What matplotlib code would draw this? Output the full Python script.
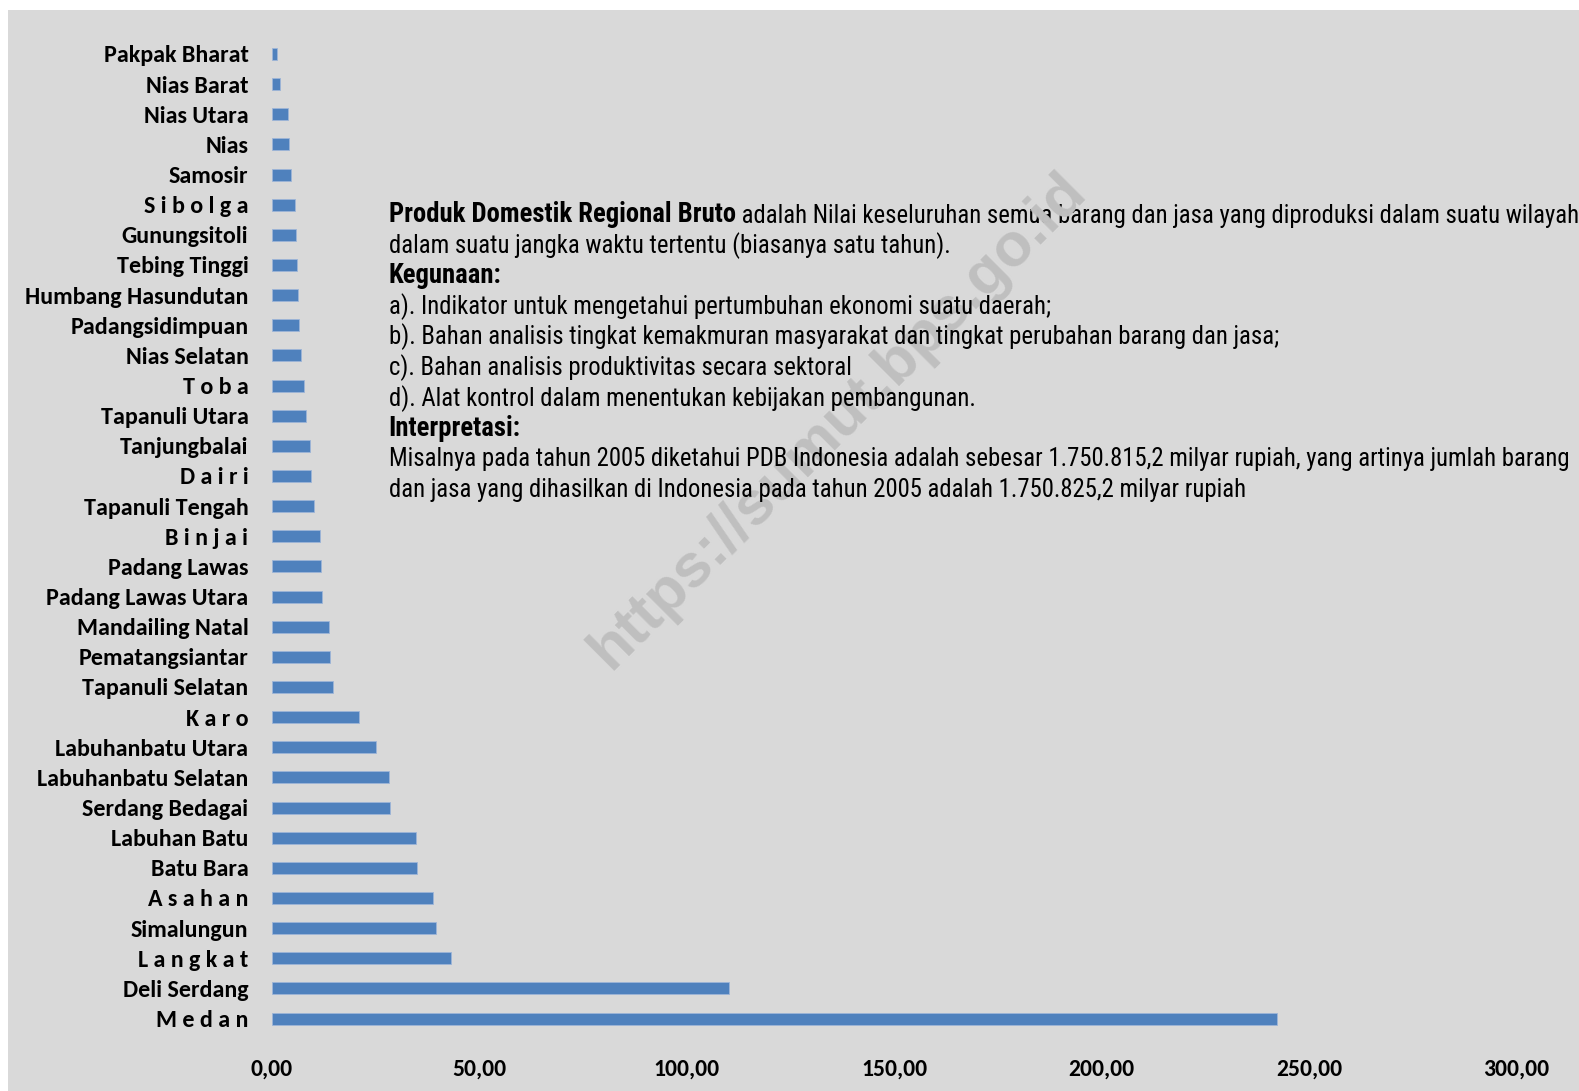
import matplotlib
matplotlib.use("Agg")
import matplotlib.pyplot as plt
from matplotlib.patches import Rectangle

categories = [
    "Pakpak Bharat", "Nias Barat", "Nias Utara", "Nias", "Samosir",
    "S i b o l g a", "Gunungsitoli", "Tebing Tinggi", "Humbang Hasundutan",
    "Padangsidimpuan", "Nias Selatan", "T o b a", "Tapanuli Utara",
    "Tanjungbalai", "D a i r i", "Tapanuli Tengah", "B i n j a i",
    "Padang Lawas", "Padang Lawas Utara", "Mandailing Natal",
    "Pematangsiantar", "Tapanuli Selatan", "K a r o", "Labuhanbatu Utara",
    "Labuhanbatu Selatan", "Serdang Bedagai", "Labuhan Batu", "Batu Bara",
    "A s a h a n", "Simalungun", "L a n g k a t", "Deli Serdang", "M e d a n",
]
values = [
    1.1, 1.9, 3.8, 4.0, 4.5,
    5.5, 5.7, 6.0, 6.2,
    6.5, 7.0, 7.7, 8.2,
    9.2, 9.3, 10.2, 11.6,
    11.9, 12.1, 13.8,
    13.9, 14.6, 20.9, 25.1,
    28.1, 28.5, 34.6, 35.0,
    38.7, 39.5, 43.2, 110.1, 242.3,
]
xticks = [0, 50, 100, 150, 200, 250, 300]
xtick_labels = ["0,00", "50,00", "100,00", "150,00", "200,00", "250,00", "300,00"]

text_lines = [
    ("Produk Domestik Regional Bruto", " adalah Nilai keseluruhan semua barang dan jasa yang diproduksi dalam suatu wilayah"),
    ("", "dalam suatu jangka waktu tertentu (biasanya satu tahun)."),
    ("Kegunaan:", ""),
    ("", "a). Indikator untuk mengetahui pertumbuhan ekonomi suatu daerah;"),
    ("", "b). Bahan analisis tingkat kemakmuran masyarakat dan tingkat perubahan barang dan jasa;"),
    ("", "c). Bahan analisis produktivitas secara sektoral"),
    ("", "d). Alat kontrol dalam menentukan kebijakan pembangunan."),
    ("Interpretasi:", ""),
    ("", "Misalnya pada tahun 2005 diketahui PDB Indonesia adalah sebesar 1.750.815,2 milyar rupiah, yang artinya jumlah barang"),
    ("", "dan jasa yang dihasilkan di Indonesia pada tahun 2005 adalah 1.750.825,2 milyar rupiah"),
]

W, H = 1579, 1091
fig = plt.figure(figsize=(W / 100, H / 100), dpi=100)
fig.patch.set_facecolor("white")
fig.add_artist(Rectangle((8 / W, 0), 1, 1 - 10 / H, transform=fig.transFigure,
                         facecolor="#d9d9d9", edgecolor="none", zorder=0))

ax_l, ax_r = 272 / W, 1516.6 / W
ax_t, ax_b = 1 - 38.9 / H, 1 - 1033.6 / H
ax = fig.add_axes([ax_l, ax_b, ax_r - ax_l, ax_t - ax_b])
ax.set_facecolor("none")

n = len(categories)
ypos = list(range(n))
ax.barh(ypos, values, height=0.4, color="#4f81bd", edgecolor="#9db5d8", linewidth=0.6)
ax.set_ylim(n - 0.5, -0.5)
ax.set_xlim(0, 300)
ax.set_yticks(ypos)
ax.set_yticklabels(categories, fontfamily="Carlito", fontweight="bold", fontsize=17.3)
ax.set_xticks(xticks)
ax.set_xticklabels(xtick_labels, fontfamily="Carlito", fontweight="bold", fontsize=17)
ax.tick_params(axis="y", length=0, pad=17)
ax.tick_params(axis="x", length=0, pad=18)
for s in ax.spines.values():
    s.set_visible(False)

# watermark
fig.text(838 / W, 1 - 421 / H, "https://sumut.bps.go.id", rotation=45,
         ha="center", va="center", fontsize=44, fontweight="bold",
         fontfamily="Liberation Sans", color="#bfbfbf", zorder=1)

# text block
tx = 388.7 / W
y0, dy = 214.5, 30.6
fam = "Roboto Condensed"
fs = 17.8
fsb = 19.2
for i, (bold, regular) in enumerate(text_lines):
    y = 1 - (y0 + i * dy) / H
    if bold:
        t = fig.text(tx, y, bold, ha="left", va="center", fontsize=fsb,
                     fontweight="bold", fontfamily=fam, color="black", zorder=3)
        if regular:
            ax.annotate(regular, xy=(1, 0), xycoords=t, ha="left", va="bottom",
                        fontsize=fs, fontfamily=fam, color="black",
                        annotation_clip=False, zorder=3)
    else:
        fig.text(tx, y, regular, ha="left", va="center", fontsize=fs,
                 fontfamily=fam, color="black", zorder=3)

fig.savefig("out.png", dpi=100, facecolor=fig.get_facecolor())
